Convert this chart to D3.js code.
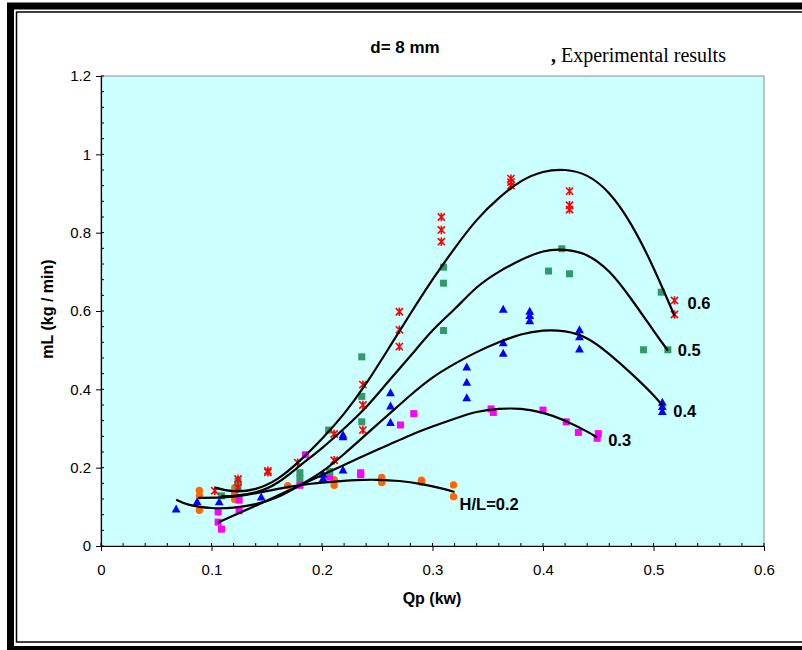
<!DOCTYPE html>
<html><head><meta charset="utf-8">
<script src="https://cdn.jsdelivr.net/npm/d3@7"></script>
<style>body{margin:0;background:#fff;}svg{display:block;}</style>
</head><body>
<svg id="chart" width="802" height="650"></svg>
<script>
// ---------- data ----------
const xTicks = [0, 0.1, 0.2, 0.3, 0.4, 0.5, 0.6];
const yTicks = [0, 0.2, 0.4, 0.6, 0.8, 1, 1.2];
const seriesNames = ["H/L=0.2", "0.3", "0.4", "0.5", "0.6"];

const pts02 = [[0.089,0.142],[0.089,0.128],[0.089,0.091],[0.121,0.149],[0.121,0.134],[0.121,0.119],
  [0.169,0.154],[0.211,0.169],[0.211,0.155],[0.254,0.175],[0.254,0.162],[0.290,0.168],[0.290,0.163],
  [0.319,0.156],[0.319,0.126]];
const pts03 = [[0.106,0.087],[0.106,0.061],[0.109,0.043],[0.125,0.117],[0.125,0.090],[0.180,0.155],
  [0.185,0.233],[0.207,0.176],[0.235,0.187],[0.235,0.182],[0.271,0.309],[0.283,0.338],[0.353,0.350],
  [0.355,0.341],[0.400,0.347],[0.421,0.317],[0.432,0.290],[0.450,0.287],[0.449,0.275]];
const pts04 = [[0.068,0.094],[0.087,0.113],[0.107,0.113],[0.145,0.125],[0.201,0.183],[0.201,0.172],
  [0.219,0.194],[0.219,0.284],[0.219,0.279],[0.262,0.391],[0.262,0.357],[0.262,0.315],[0.331,0.457],
  [0.331,0.418],[0.331,0.378],[0.364,0.604],[0.364,0.519],[0.364,0.492],[0.388,0.599],[0.388,0.588],
  [0.388,0.575],[0.433,0.552],[0.433,0.534],[0.433,0.503],[0.508,0.367],[0.508,0.356],[0.508,0.343]];
const pts05 = [[0.109,0.128],[0.124,0.166],[0.124,0.152],[0.180,0.187],[0.180,0.172],[0.206,0.296],
  [0.207,0.190],[0.236,0.483],[0.236,0.382],[0.236,0.317],[0.310,0.712],[0.310,0.671],[0.310,0.550],
  [0.405,0.702],[0.417,0.759],[0.424,0.695],[0.491,0.501],[0.507,0.648],[0.513,0.501]];
const pts06 = [[0.103,0.141],[0.124,0.171],[0.124,0.149],[0.151,0.192],[0.151,0.188],[0.178,0.213],
  [0.211,0.286],[0.211,0.219],[0.237,0.412],[0.237,0.360],[0.237,0.296],[0.270,0.598],[0.270,0.552],
  [0.270,0.509],[0.308,0.840],[0.308,0.807],[0.308,0.777],[0.371,0.938],[0.371,0.929],[0.371,0.920],
  [0.424,0.906],[0.424,0.870],[0.424,0.859],[0.519,0.627],[0.519,0.591]];

// fitted trend curves
const fit02 = [[0.088,0.123],[0.11,0.124],[0.13,0.13],[0.15,0.14],[0.17,0.151],[0.19,0.159],[0.21,0.164],
  [0.23,0.168],[0.25,0.169],[0.27,0.166],[0.29,0.158],[0.31,0.146],[0.32,0.138]];
const fit03 = [[0.106,0.06],[0.12,0.078],[0.14,0.103],[0.16,0.129],[0.18,0.155],[0.20,0.181],[0.22,0.207],
  [0.24,0.233],[0.26,0.258],[0.28,0.283],[0.30,0.305],[0.32,0.325],[0.34,0.342],[0.36,0.35],[0.38,0.35],
  [0.40,0.34],[0.42,0.32],[0.44,0.292],[0.449,0.277]];
const fit04 = [[0.068,0.118],[0.08,0.105],[0.10,0.097],[0.12,0.098],[0.14,0.107],[0.16,0.125],[0.18,0.155],
  [0.20,0.19],[0.22,0.235],[0.24,0.285],[0.26,0.335],[0.28,0.385],[0.30,0.43],[0.32,0.465],[0.34,0.495],
  [0.36,0.52],[0.38,0.54],[0.40,0.55],[0.42,0.548],[0.44,0.53],[0.46,0.49],[0.48,0.44],[0.50,0.385],[0.508,0.358]];
const fit05 = [[0.109,0.128],[0.12,0.128],[0.14,0.137],[0.16,0.162],[0.18,0.205],[0.20,0.25],[0.22,0.30],
  [0.24,0.355],[0.26,0.42],[0.28,0.485],[0.30,0.55],[0.32,0.605],[0.34,0.66],[0.36,0.70],[0.38,0.73],
  [0.40,0.752],[0.42,0.756],[0.44,0.742],[0.46,0.70],[0.48,0.63],[0.50,0.55],[0.513,0.499]];
const fit06 = [[0.103,0.149],[0.12,0.14],[0.14,0.146],[0.16,0.172],[0.18,0.218],[0.20,0.274],[0.22,0.338],
  [0.24,0.415],[0.26,0.503],[0.28,0.593],[0.30,0.68],[0.32,0.76],[0.34,0.832],[0.36,0.888],[0.38,0.931],
  [0.40,0.955],[0.42,0.96],[0.44,0.945],[0.46,0.90],[0.48,0.82],[0.50,0.71],[0.519,0.588]];

// ---------- layout ----------
const svg = d3.select("#chart");
const x = d3.scaleLinear().domain([0, 0.6]).range([101, 764]);
const y = d3.scaleLinear().domain([0, 1.2]).range([546, 76]);
const SANS = "Arial, 'Liberation Sans', sans-serif";

// outer frame
svg.append("rect").attr("x", 10.5).attr("y", 6).attr("width", 820).attr("height", 643.5)
  .attr("fill", "none").attr("stroke", "#000").attr("stroke-width", 7);
svg.append("rect").attr("x", 16.5).attr("y", 12).attr("width", 810).attr("height", 630)
  .attr("fill", "none").attr("stroke", "#000").attr("stroke-width", 1.5);

// plot area
svg.append("rect").attr("x", x(0)).attr("y", y(1.2)).attr("width", x(0.6) - x(0)).attr("height", y(0) - y(1.2))
  .attr("fill", "#CCFFFF").attr("stroke", "#8c8c8c").attr("stroke-width", 1);

// minor ticks
const minorX = d3.range(0, 0.6001, 0.02);
const minorY = d3.range(0, 1.2001, 0.04);
svg.append("g").selectAll("line").data(minorX).join("line")
  .attr("x1", d => x(d)).attr("x2", d => x(d)).attr("y1", y(0)).attr("y2", y(0) - 3)
  .attr("stroke", "#000").attr("stroke-width", 1);
svg.append("g").selectAll("line").data(minorY).join("line")
  .attr("x1", x(0)).attr("x2", x(0) + 3).attr("y1", d => y(d)).attr("y2", d => y(d))
  .attr("stroke", "#000").attr("stroke-width", 1);

// axes
const xAxis = svg.append("g").attr("transform", `translate(0,${y(0)})`)
  .call(d3.axisBottom(x).tickValues(xTicks).tickSize(5).tickSizeOuter(0).tickPadding(13).tickFormat(d3.format("")));
const yAxis = svg.append("g").attr("transform", `translate(${x(0)},0)`)
  .call(d3.axisLeft(y).tickValues(yTicks).tickSize(5).tickSizeOuter(0).tickPadding(5).tickFormat(d3.format("")));
[xAxis, yAxis].forEach(g => {
  g.selectAll("path").attr("stroke", "#000").attr("stroke-width", 1.2);
  g.selectAll("line").attr("stroke", "#000").attr("stroke-width", 1);
  g.selectAll("text").attr("font-family", SANS).attr("font-size", 15).attr("fill", "#000");
});

// markers
const gp = svg.append("g");
gp.selectAll("circle.s02").data(pts02).join("circle")
  .attr("cx", d => x(d[0])).attr("cy", d => y(d[1])).attr("r", 3.7).attr("fill", "#FF6600");
gp.selectAll("rect.s03").data(pts03).join("rect")
  .attr("x", d => x(d[0]) - 3.5).attr("y", d => y(d[1]) - 3.5).attr("width", 7).attr("height", 7).attr("fill", "#FF00FF");
gp.selectAll("path.s04").data(pts04).join("path")
  .attr("transform", d => `translate(${x(d[0])},${y(d[1])})`)
  .attr("d", "M0,-4.6L4.4,3.4L-4.4,3.4Z").attr("fill", "#0000FF");
gp.selectAll("rect.s05").data(pts05).join("rect")
  .attr("x", d => x(d[0]) - 3.5).attr("y", d => y(d[1]) - 3.5).attr("width", 7).attr("height", 7).attr("fill", "#339966");
gp.selectAll("path.s06").data(pts06).join("path")
  .attr("transform", d => `translate(${x(d[0])},${y(d[1])})`)
  .attr("d", "M-3.6,-3.6L3.6,3.6M-3.6,3.6L3.6,-3.6M0,-4.2L0,4.2").attr("stroke", "#FF0000").attr("stroke-width", 1.6).attr("fill", "none");

// trend curves
const line = d3.line().x(d => x(d[0])).y(d => y(d[1])).curve(d3.curveNatural);
const fits = [fit02, fit03, fit04, fit05, fit06];
svg.append("g").selectAll("path").data(fits).join("path")
  .attr("d", line).attr("fill", "none").attr("stroke", "#000").attr("stroke-width", 2.2);

// curve labels
const labelOffsets = [[5, 12], [11, 3], [11, 5], [10, 0], [13, -12]];
svg.append("g").selectAll("text").data(fits).join("text")
  .attr("x", (d, i) => x(d[d.length - 1][0]) + labelOffsets[i][0])
  .attr("y", (d, i) => y(d[d.length - 1][1]) + labelOffsets[i][1])
  .attr("dy", "0.35em")
  .attr("font-family", SANS).attr("font-weight", "bold").attr("font-size", 16.5)
  .text((d, i) => seriesNames[i]);

// titles
svg.append("text").attr("x", 405).attr("y", 53).attr("text-anchor", "middle")
  .attr("font-family", SANS).attr("font-weight", "bold").attr("font-size", 17)
  .text("d= 8 mm");
svg.append("text").attr("x", 551).attr("y", 62)
  .attr("font-family", "'Times New Roman', 'Liberation Serif', serif").attr("font-size", 20)
  .html('<tspan font-weight="bold">,</tspan> Experimental results');
svg.append("text").attr("x", 432).attr("y", 604).attr("text-anchor", "middle")
  .attr("font-family", SANS).attr("font-weight", "bold").attr("font-size", 16)
  .text("Qp (kw)");
svg.append("text").attr("transform", "translate(53,309) rotate(-90)").attr("text-anchor", "middle")
  .attr("font-family", SANS).attr("font-weight", "bold").attr("font-size", 16)
  .text("mL (kg / min)");
</script>
</body></html>
